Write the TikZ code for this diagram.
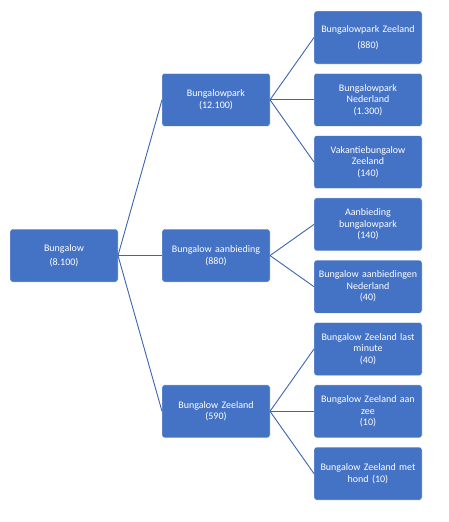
\documentclass[tikz,border=0pt]{standalone}
\usepackage{fontspec}
\setmainfont{Carlito}
\usetikzlibrary{positioning, calc}
\definecolor{office_blue}{HTML}{4472C4}
\definecolor{office_line}{HTML}{3C64B0}
\tikzset{
  term/.style={rectangle,rounded corners=2.5pt,draw=white,line width=.4pt,fill=office_blue,text=white,
    font=\fontsize{10}{11.5}\selectfont,align=center,minimum width=108pt,minimum height=53pt,
    text width=106pt,inner sep=1pt,outer sep=0pt},
  link/.style={draw=office_line,line width=.9pt},
}
\begin{document}
\begin{tikzpicture}[x=1pt,y=-1pt]
	    \useasboundingbox (0,0) rectangle (449,522);
	    % right column
	    \node[term] (r1) at (368,37.5) {Bungalowpark Zeeland\\[4pt](880)};
	    \node[term,below=9.3pt of r1] (r2) {Bungalowpark\\Nederland\\(1.300)};
	    \node[term,below=9.3pt of r2] (r3) {Vakantiebungalow\\Zeeland\\(140)};
	    \node[term,below=9.3pt of r3] (r4) {Aanbieding\\bungalowpark\\(140)};
	    \node[term,below=9.3pt of r4] (r5) {Bungalow aanbiedingen\\Nederland\\(40)};
	    \node[term,below=9.3pt of r5] (r6) {Bungalow Zeeland last\\minute\\(40)};
	    \node[term,below=9.3pt of r6] (r7) {Bungalow Zeeland aan\\zee\\(10)};
	    \node[term,below=9.3pt of r7] (r8) {Bungalow Zeeland met\\hond (10)};
	    \coordinate (r45) at ($(r4.west)!0.5!(r5.west)$);
	    % middle column
	    \node[term,left=44pt of r2] (park) {Bungalowpark\\(12.100)};
	    \node[term,left=44pt of r45] (offer) {Bungalow aanbieding\\(880)};
	    \node[term,left=44pt of r7] (zee) {Bungalow Zeeland\\(590)};
	    % root
	    \node[term,left=44pt of offer,font=\fontsize{10}{14}\selectfont] (root) {Bungalow\\(8.100)};
	    \draw[link] (root.east) -- (park.west);
	    \draw[link] (root.east) -- (offer.west);
	    \draw[link] (root.east) -- (zee.west);
	    \foreach \t in {r1,r2,r3} \draw[link] (park.east) -- (\t.west);
	    \foreach \t in {r4,r5} \draw[link] (offer.east) -- (\t.west);
	    \foreach \t in {r6,r7,r8} \draw[link] (zee.east) -- (\t.west);
	\end{tikzpicture}
\end{document}
